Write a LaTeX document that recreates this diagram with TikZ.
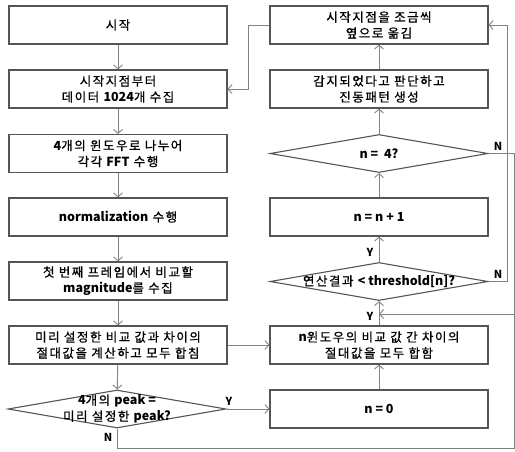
\documentclass[tikz,border=0pt]{standalone}
\usepackage{fontspec}
\setmainfont{Noto Sans CJK KR}
\newfontfamily\krf{Noto Sans CJK KR}[LetterSpace=12,FakeBold=0.8]
\newfontfamily\ltf{Noto Sans CJK KR}
\newcommand\la[1]{{\ltf\bfseries #1}}
\usetikzlibrary{arrows.meta,shapes.geometric}
\definecolor{boxc}{RGB}{85,85,85}
\definecolor{linec}{RGB}{130,130,130}
\begin{document}
\begin{tikzpicture}[x=1pt,y=-1pt,
  box/.style={draw=boxc, line width=1.1pt, minimum width=218pt, minimum height=38pt, inner sep=0pt, align=center, font=\fontsize{12.5}{16}\krf},
  dia/.style={draw=boxc, line width=1.1pt, diamond, minimum width=218pt, minimum height=38pt, inner sep=0pt},
  txt/.style={align=center, inner sep=0pt, font=\fontsize{12.5}{16}\krf},
  arr/.style={draw=linec, line width=0.9pt, -{Straight Barb[length=4pt,width=9pt]}},
  ln/.style={draw=linec, line width=0.9pt},
  lab/.style={inner sep=0pt, font=\fontsize{11}{13}\ltf\bfseries}]
\useasboundingbox (0,0) rectangle (515,451);
% left column
\node[box] (L1) at (118,25) {시작};
\node[box] (L2) at (118,89) {시작지점부터\\데이터 \la{1024}개 수집};
\node[box] (L3) at (118,153.5) {\la{4}개의 윈도우로 나누어\\각각 \la{FFT} 수행};
\node[box] (L4) at (118,217) {\la{normalization} 수행};
\node[box] (L5) at (118,281) {첫 번째 프레임에서 비교할\\\la{magnitude}를 수집};
\node[box] (L6) at (118,345) {미리 설정한 비교 값과 차이의\\절대값을 계산하고 모두 합침};
\node[dia] (LD) at (117,409) {};
\node[txt] (LDt) at (LD) {\la{4}개의 \la{peak =}\\미리 설정한 \la{peak?}};
% right column
\node[box] (R1) at (379,25) {시작지점을 조금씩\\옆으로 옮김};
\node[box] (R2) at (379,89) {감지되었다고 판단하고\\진동패턴 생성};
\node[dia] (RD1) at (379,153.5) {};
\node[txt] (RD1t) at (RD1) {\la{n =\ \ 4?}};
\node[box] (R3) at (379,217) {\la{n = n + 1}};
\node[dia] (RD2) at (379,281.5) {};
\node[txt] (RD2t) at (RD2) {연산결과 \la{< threshold[n]?}};
\node[box] (R4) at (379,345) {\la{n}윈도우의 비교 값 간 차이의\\절대값을 모두 합함};
\node[box] (R5) at (379,409) {\la{n = 0}};
% helper coordinates
\coordinate (rA) at (514,0);
\coordinate (rB) at (507,0);
\coordinate (bot) at (0,448);
\coordinate (jy) at (0,314);
\coordinate (lx) at (248,0);
% left column arrows
\draw[arr] (L1) -- (L2);
\draw[arr] (L2) -- (L3);
\draw[arr] (L3) -- (L4);
\draw[arr] (L4) -- (L5);
\draw[arr] (L5) -- (L6);
\draw[arr] (L6) -- (LD);
% cross arrows
\draw[arr] (L6.east) -- (R4.west);
\draw[arr] (LD.east) -- (R5.west);
% right column arrows (upwards)
\draw[arr] (R5) -- (R4);
\draw[arr] (R4) -- (RD2);
\draw[arr] (RD2) -- (R3);
\draw[arr] (R3) -- (RD1);
\draw[arr] (RD1) -- (R2);
\draw[arr] (R2) -- (R1);
% loops
\draw[arr] (R1.west) -- (R1.west -| lx) -- (lx |- L2.east) -- (L2.east);
\draw[arr] (RD2.east) -- (RD2.east -| rB) -- (rB |- R1.east) -- (R1.east);
\draw[arr] (RD1.east) -- (RD1.east -| rA) -- (rA |- jy) -- (R4.north |- jy);
\draw[ln] (LD.south) -- (LD.south |- bot) -- (rA |- bot) -- (rA |- jy);
% labels
\node[lab] (nA) at (498,146) {N};
\node[lab] (nB) at (498,274) {N};
\node[lab] (nC) at (108,437) {N};
\node[lab] (yA) at (229,401) {Y};
\node[lab] (yB) at (370,316) {Y};
\node[lab] (yC) at (370,252) {Y};
\end{tikzpicture}
\end{document}
